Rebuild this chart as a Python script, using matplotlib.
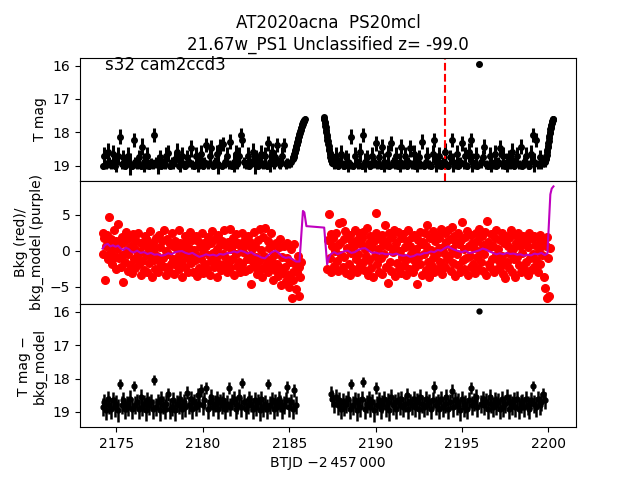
import numpy as np
import matplotlib
matplotlib.use("Agg")
import matplotlib.pyplot as plt

# ---------------- data ----------------
title_text = "AT2020acna  PS20mcl\n21.67w_PS1 Unclassified z= -99.0"
sector_text = "s32 cam2ccd3"
marker_time = 2194.0

cadence = 0.1
ramp_cadence = 0.02
red_cadence = 0.05

# top panel: T mag, orbit 1 (flat part)
top_a_start = 2174.2
top_a_mag = [19.0, 18.7, 18.95, 18.6, 18.9, 18.95, 18.65, 19.0, 18.9, 18.7,
             18.13, 18.95, 18.75, 19.0, 18.9, 18.7, 18.95, 19.0, 18.23, 18.9,
             18.95, 18.75, 19.0, 18.43, 18.9, 18.95, 18.7, 19.0, 18.9, 18.95,
             18.08, 18.9, 18.95, 18.75, 19.0, 18.9, 18.95, 18.7, 18.63, 19.0,
             18.9, 18.95, 18.8, 18.58, 19.0, 18.9, 18.7, 18.95, 19.0, 18.75,
             18.9, 18.48, 18.95, 19.0, 18.7, 18.9, 18.95, 18.65, 19.0, 18.9,
             18.38, 18.95, 18.7, 18.48, 19.0, 18.9, 18.65, 18.95, 18.43, 19.0,
             18.35, 18.9, 18.7, 18.95, 18.28, 19.0, 18.9, 18.65, 18.95, 18.7,
             18.08, 18.23, 18.9, 18.95, 18.7, 19.0, 18.9, 18.6, 18.95, 18.75,
             19.0, 18.9, 18.65, 18.95, 18.7, 19.0, 18.33, 18.9, 18.6, 18.95,
             18.75, 18.38, 18.9, 18.95, 18.7, 18.38, 18.95, 18.9, 18.95, 18.9, 18.8]
top_a_err = [0.08, 0.25, 0.13, 0.28, 0.17, 0.13, 0.26, 0.1, 0.28, 0.25,
             0.22, 0.13, 0.22, 0.08, 0.13, 0.25, 0.33, 0.1, 0.22, 0.17,
             0.13, 0.22, 0.1, 0.25, 0.28, 0.13, 0.25, 0.08, 0.13, 0.13,
             0.22, 0.17, 0.28, 0.22, 0.1, 0.13, 0.13, 0.25, 0.25, 0.08,
             0.17, 0.13, 0.2, 0.25, 0.1, 0.28, 0.25, 0.13, 0.08, 0.22,
             0.13, 0.25, 0.13, 0.1, 0.25, 0.28, 0.13, 0.26, 0.08, 0.17,
             0.22, 0.13, 0.25, 0.25, 0.1, 0.17, 0.26, 0.28, 0.22, 0.08,
             0.22, 0.17, 0.25, 0.13, 0.22, 0.1, 0.28, 0.26, 0.13, 0.25,
             0.22, 0.22, 0.17, 0.13, 0.25, 0.08, 0.13, 0.28, 0.28, 0.22,
             0.1, 0.17, 0.26, 0.13, 0.25, 0.08, 0.22, 0.28, 0.28, 0.13,
             0.22, 0.22, 0.17, 0.13, 0.25, 0.22, 0.13, 0.13, 0.12, 0.12, 0.1]
# scattered-light ramp at the end of orbit 1
ramp_a_start = 2185.22
ramp_a_mag = [18.78, 18.75, 18.73, 18.68, 18.66, 18.6, 18.58, 18.52, 18.5, 18.44,
              18.42, 18.36, 18.34, 18.28, 18.26, 18.2, 18.18, 18.12, 18.1, 18.04,
              18.02, 17.96, 17.94, 17.88, 17.86, 17.81, 17.8, 17.75, 17.74, 17.7,
              17.69, 17.66, 17.65, 17.62, 17.6]
# ramp at the start of orbit 2
ramp_b_start = 2187.0
ramp_b_mag = [17.55, 17.59, 17.61, 17.68, 17.72, 17.8, 17.85, 17.94, 17.99, 18.08,
              18.13, 18.22, 18.27, 18.36, 18.41, 18.5, 18.54, 18.62, 18.66, 18.73,
              18.76, 18.82, 18.84, 18.89, 18.9, 18.92]
ramp_err = 0.08

# orbit 2 (flat part)
top_b_start = 2187.6
top_b_mag = [18.95, 18.7, 19.0, 18.9, 18.65, 18.95, 19.0, 18.75, 18.9, 18.95,
             18.13, 19.0, 18.7, 18.9, 18.95, 18.6, 19.0, 18.08, 18.9, 18.75,
             18.95, 19.0, 18.7, 18.9, 18.33, 18.95, 18.75, 19.0, 18.43, 18.9,
             18.95, 18.65, 19.0, 18.33, 18.9, 18.95, 18.7, 19.0, 18.9, 18.43,
             18.95, 18.7, 19.0, 18.9, 18.48, 18.95, 18.65, 19.0, 18.9, 18.75,
             18.95, 18.28, 19.0, 18.9, 18.7, 18.95, 19.0, 18.65, 18.23, 18.9,
             18.95, 18.7, 19.0, 18.9, 18.6, 18.95, 19.0, 18.75, 18.23, 18.9,
             18.95, 18.65, 19.0, 18.9, 18.33, 18.95, 18.7, 19.0, 18.6, 18.23,
             18.9, 18.95, 18.7, 19.0, 15.96, 18.9, 18.75, 18.43, 18.95, 19.0,
             18.7, 18.9, 18.95, 18.65, 19.0, 18.9, 18.48, 18.95, 18.7, 19.0,
             18.9, 18.75, 18.95, 18.6, 19.0, 18.9, 18.7, 18.95, 18.43, 19.0,
             18.9, 18.7, 18.95, 19.0, 18.65, 18.08, 18.9, 18.23, 18.95, 18.75,
             18.95, 18.9, 18.9]
top_b_err = [0.13, 0.25, 0.08, 0.17, 0.26, 0.13, 0.1, 0.22, 0.28, 0.13,
             0.22, 0.08, 0.25, 0.13, 0.13, 0.28, 0.1, 0.22, 0.28, 0.22,
             0.13, 0.08, 0.25, 0.17, 0.22, 0.13, 0.22, 0.1, 0.22, 0.28,
             0.13, 0.26, 0.08, 0.22, 0.17, 0.13, 0.25, 0.1, 0.28, 0.22,
             0.13, 0.25, 0.08, 0.17, 0.25, 0.13, 0.26, 0.1, 0.28, 0.22,
             0.13, 0.22, 0.08, 0.17, 0.25, 0.13, 0.1, 0.26, 0.22, 0.28,
             0.13, 0.25, 0.08, 0.17, 0.28, 0.13, 0.1, 0.22, 0.22, 0.28,
             0.13, 0.26, 0.08, 0.17, 0.22, 0.13, 0.25, 0.1, 0.28, 0.22,
             0.28, 0.13, 0.25, 0.08, 0.03, 0.17, 0.22, 0.22, 0.13, 0.1,
             0.25, 0.28, 0.13, 0.26, 0.08, 0.17, 0.25, 0.13, 0.25, 0.1,
             0.28, 0.22, 0.13, 0.28, 0.08, 0.17, 0.25, 0.13, 0.22, 0.1,
             0.17, 0.25, 0.13, 0.08, 0.26, 0.22, 0.28, 0.22, 0.13, 0.22,
             0.13, 0.13, 0.12]
# ramp at the end of orbit 2
ramp_c_start = 2199.82
ramp_c_mag = [18.86, 18.81, 18.78, 18.71, 18.67, 18.59, 18.54, 18.45, 18.4, 18.31,
              18.26, 18.17, 18.12, 18.03, 17.99, 17.91, 17.87, 17.8, 17.77, 17.71,
              17.69, 17.65, 17.63, 17.61, 17.6]

# middle panel: background (red) and background model (purple)
red_a_start = 2174.2
red_a = [2.5, -0.5, 1.8, -4.0, 0.7, 2.2, -1.2, 1.0, 4.7, -0.3,
         1.6, -1.8, 0.4, 2.8, -0.9, 1.3, -2.5, 0.2, 3.7, -1.0,
         0.9, -2.2, 1.9, -0.6, -4.3, 1.2, -1.5, 2.6, 0.1, -2.8,
         -0.4, 1.7, -2.0, 0.6, -3.1, 2.3, -1.1, 0.3, -2.4, 1.4,
         -0.8, 2.5, -1.9, -0.2, -3.3, 1.1, -1.4, 0.8, -2.7, 2.0,
         -0.6, 1.5, -2.9, 0.4, -1.7, 2.7, -0.9, -3.6, 1.0, -1.3,
         0.2, -2.5, 1.8, -0.7, -3.0, 2.2, -1.6, 0.5, -2.1, 1.3,
         -1.0, 2.9, -2.3, 0.0, -3.4, 1.6, -0.5, -2.8, 0.9, -1.8,
         2.4, -1.2, 0.6, -3.2, 1.4, -2.0, 0.3, -0.9, 2.8, -2.6,
         1.0, -1.5, -3.7, 0.7, -0.3, 2.1, -2.2, 1.2, -1.0, -3.0,
         0.4, 2.6, -1.7, -0.4, 1.5, -2.9, 0.1, -1.3, 2.0, -3.5,
         -0.8, 1.3, -2.4, 0.5, -1.1, 2.4, -3.1, -0.2, 1.0, -1.9,
         0.7, -2.6, 1.9, -0.6, -3.3, 1.1, -1.4, 2.7, -0.3, -2.2,
         1.6, -1.0, -3.6, 0.3, 2.2, -1.8, 0.8, -2.7, 1.4, -0.5,
         -2.0, 2.9, -0.9, 0.6, -3.0, 1.2, -1.6, 3.0, -2.4, 0.2,
         -1.2, 1.8, -3.4, 0.9, -0.4, 2.3, -2.1, 1.0, -1.5, -3.0,
         0.5, 2.5, -1.9, -0.2, 1.4, -2.8, 0.8, -1.1, 2.0, -2.5,
         -0.7, 1.2, -4.6, 0.3, -1.6, 2.6, -2.3, 0.7, -0.9, -3.2,
         1.5, -1.4, 3.0, -2.6, 0.1, -3.6, 1.9, -0.8, 3.2, -2.0,
         -1.1, 1.3, -3.0, 0.4, -2.2, 2.4, -1.5, -4.0, 0.8, -0.6,
         -2.7, 1.0, -1.8, -3.5, 0.5, -2.4, 1.6, -4.8, -0.9, -3.1,
         0.6, -2.2, -4.2, -1.0, 1.1, -3.4, -5.0, -1.6, 0.2, -6.6,
         -2.9, -4.1, 0.9, -1.8, -5.3, -3.0, -0.7, -6.2, -2.2, -3.6,
         -1.5]
red_b_start = 2187.2
red_b = [-2.5, 1.5, 5.1, -1.0, 2.3, -3.0, 0.6, 1.8, -2.1, 0.0,
         2.4, -1.4, 0.8, -2.8, 3.8, 1.1, -0.6, 4.0, -2.2, 1.6,
         -0.9, 2.7, -3.1, 0.4, 1.9, -1.8, -3.4, 2.2, -0.3, 1.2,
         -2.5, 0.7, 2.9, -1.2, -3.0, 1.5, -0.5, 2.4, -2.0, 0.9,
         1.7, -1.6, 2.6, -2.7, 0.3, -0.8, 3.1, -3.3, 1.0, -1.3,
         2.0, -2.4, 0.5, -3.7, 1.4, -0.7, 2.5, 5.2, -1.9, 0.2,
         -2.9, 1.6, -1.0, 2.2, -3.2, 0.8, -0.4, 3.5, -2.3, 1.3,
         -4.5, 0.6, 2.4, -1.5, -2.8, 1.9, -0.2, 2.8, -3.5, 0.4,
         1.1, -1.7, 2.6, -2.5, 0.0, -3.1, 1.8, -0.9, 2.3, -2.0,
         0.5, -3.4, 1.4, -1.1, 2.9, -2.6, 0.7, -0.5, 1.9, -3.0,
         -1.3, 2.2, -2.2, 0.3, -4.6, 1.5, -0.8, 2.6, -1.9, 0.9,
         -3.3, 1.2, -0.4, 2.4, -2.7, 0.6, 3.5, -1.5, -3.6, 1.7,
         0.1, -2.1, 2.7, -1.0, -3.0, 1.3, -0.6, 2.2, -2.5, 0.4,
         1.8, -1.6, 3.0, -3.2, 0.5, -0.3, 2.5, -2.3, 1.2, -1.1,
         2.9, -0.8, 1.6, -2.8, 3.3, 0.2, -1.7, 2.0, -3.5, 1.0,
         -0.5, 2.4, -2.0, 0.9, -3.0, 1.5, 4.0, -1.3, 0.3, -2.6,
         1.9, -1.0, 2.7, -3.3, 0.6, -0.7, 2.2, -2.2, 1.1, -1.8,
         0.4, -3.1, 2.5, -0.9, 1.4, -2.5, 3.0, 0.0, -1.5, 2.1,
         -2.8, 0.8, -0.4, 2.6, -3.4, 4.1, 1.2, -1.9, 0.5, -2.3,
         2.3, -1.2, 0.7, -3.0, 1.7, -0.6, 2.8, -2.6, 0.2, -1.4,
         1.5, -2.1, 2.4, -0.8, -3.2, 1.0, -3.8, 2.0, -1.6, 0.6,
         -2.4, 1.8, -0.5, 2.9, -2.9, 0.3, -1.2, 2.2, -3.6, 1.1,
         -0.9, 2.5, -2.0, 0.7, -3.0, 1.6, -0.3, 2.0, -2.5, 0.9,
         -1.6, 1.3, -3.4, 0.5, 2.4, -1.0, -2.7, 1.7, -0.4, 2.1,
         -2.2, 0.8, -1.3, 1.9, -3.0, 0.3, 2.2, -1.8, 1.0, -0.6,
         1.5, -3.7, -5.2, 0.7, -6.6, 1.9, -1.0, -6.3, 0.4]

purple_t = [2174.2, 2174.35, 2174.5, 2174.65, 2174.8, 2174.95, 2175.1, 2175.25, 2175.4, 2175.55,
            2175.7, 2175.85, 2176.0, 2176.2, 2176.4, 2176.6, 2176.8, 2177.0, 2177.2, 2177.4,
            2177.6, 2177.8, 2178.0, 2178.2, 2178.4, 2178.6, 2178.8, 2179.0, 2179.2, 2179.4,
            2179.6, 2179.8, 2180.0, 2180.2, 2180.4, 2180.6, 2180.8, 2181.0, 2181.2, 2181.4,
            2181.6, 2181.8, 2182.0, 2182.2, 2182.4, 2182.6, 2182.8, 2183.0, 2183.2, 2183.4,
            2183.6, 2183.8, 2184.0, 2184.2, 2184.4, 2184.6, 2184.8, 2185.0, 2185.2, 2185.4,
            2185.6, 2185.8, 2185.88, 2186.0, 2187.03, 2187.2, 2187.3, 2187.4, 2187.6, 2187.8,
            2188.0, 2188.2, 2188.4, 2188.6, 2188.8, 2189.0, 2189.2, 2189.4, 2189.6, 2189.8,
            2190.0, 2190.2, 2190.4, 2190.6, 2190.8, 2191.0, 2191.2, 2191.4, 2191.6, 2191.8,
            2192.0, 2192.2, 2192.4, 2192.6, 2192.8, 2193.0, 2193.2, 2193.4, 2193.6, 2193.8,
            2194.0, 2194.2, 2194.4, 2194.6, 2194.8, 2195.0, 2195.2, 2195.4, 2195.6, 2195.8,
            2196.0, 2196.2, 2196.4, 2196.6, 2196.8, 2197.0, 2197.2, 2197.4, 2197.6, 2197.8,
            2198.0, 2198.2, 2198.4, 2198.6, 2198.8, 2199.0, 2199.2, 2199.4, 2199.6, 2199.8,
            2199.95, 2200.05, 2200.12, 2200.2, 2200.3]
purple_v = [0.3, 0.8, 0.95, 0.6, 0.75, 0.55, 0.7, 0.3, 0.1, 0.4,
            0.25, -0.1, -0.25, 0.0, -0.3, -0.2, -0.45, -0.3, -0.55, -0.5,
            -0.7, -0.6, -0.35, -0.5, -0.2, -0.1, -0.05, -0.3, -0.45, -0.3,
            -0.6, -0.85, -0.7, -0.5, -0.65, -0.55, -0.7, -0.45, -0.55, -0.35,
            -0.3, -0.1, -0.25, 0.0, -0.15, -0.4, -0.2, -0.55, -0.7, -0.95,
            -1.05, -0.6, -0.2, 0.0, -0.3, -0.8, -1.0, -0.9, -1.2, -1.5,
            -1.5, 5.5, 5.3, 3.4, 3.2, -1.9, -1.0, -0.5, -0.2, -0.45,
            -0.3, -0.05, 0.0, -0.3, -0.2, 0.1, 0.3, 0.35, 0.0, -0.3,
            -0.25, -0.4, -0.35, -0.5, -0.45, -0.55, -0.4, -0.6, -0.7, -0.6,
            -0.85, -0.75, -0.5, -0.55, -0.35, -0.3, -0.1, -0.2, 0.1, 0.0,
            0.35, 0.6, 0.3, 0.1, -0.05, -0.2, 0.0, -0.3, -0.25, -0.1,
            0.05, 0.3, 0.15, -0.1, -0.3, -0.5, -0.35, -0.5, -0.3, -0.45,
            -0.4, -0.55, -0.5, -0.7, -0.55, -0.65, -0.4, -0.5, -0.3, -0.6,
            -0.4, 4.5, 7.8, 8.6, 8.9]

# bottom panel: T mag - bkg_model
bot_a_start = 2174.2
bot_a_mag = [18.85, 18.7, 18.95, 18.6, 18.8, 18.9, 18.65, 18.85, 18.75, 18.95,
             18.17, 18.8, 18.65, 18.9, 18.75, 18.85, 18.6, 18.9, 18.22, 18.8,
             18.7, 18.9, 18.55, 18.85, 18.75, 18.95, 18.65, 18.8, 18.7, 18.9,
             18.05, 18.85, 18.7, 18.95, 18.6, 18.8, 18.9, 18.75, 18.47, 18.9,
             18.85, 18.65, 18.95, 18.75, 18.8, 18.6, 18.9, 18.7, 18.85, 18.42,
             18.8, 18.6, 18.9, 18.7, 18.85, 18.5, 18.75, 18.35, 18.8, 18.65,
             18.29, 18.9, 18.7, 18.55, 18.85, 18.75, 18.6, 18.9, 18.7, 18.8,
             18.65, 18.9, 18.75, 18.29, 18.85, 18.7, 18.6, 18.9, 18.8, 18.55,
             18.85, 18.12, 18.7, 18.9, 18.8, 18.6, 18.75, 18.9, 18.65, 18.85,
             18.7, 18.95, 18.6, 18.85, 18.75, 18.9, 18.17, 18.8, 18.65, 18.9,
             18.7, 18.85, 18.6, 18.75, 18.9, 18.8, 18.65, 18.25, 18.85, 18.7,
             18.9, 18.35, 18.8]
bot_a_err = [0.28, 0.25, 0.3, 0.24, 0.27, 0.32, 0.25, 0.29, 0.26, 0.34,
             0.15, 0.27, 0.25, 0.3, 0.24, 0.28, 0.26, 0.31, 0.15, 0.27,
             0.25, 0.3, 0.24, 0.28, 0.26, 0.33, 0.25, 0.29, 0.24, 0.3,
             0.15, 0.28, 0.25, 0.32, 0.24, 0.27, 0.3, 0.26, 0.2, 0.31,
             0.28, 0.25, 0.33, 0.26, 0.27, 0.24, 0.3, 0.25, 0.29, 0.2,
             0.27, 0.24, 0.31, 0.25, 0.28, 0.22, 0.26, 0.2, 0.29, 0.25,
             0.18, 0.3, 0.25, 0.23, 0.28, 0.26, 0.24, 0.32, 0.25, 0.27,
             0.24, 0.31, 0.26, 0.18, 0.28, 0.25, 0.24, 0.3, 0.27, 0.23,
             0.29, 0.15, 0.25, 0.31, 0.27, 0.24, 0.26, 0.32, 0.25, 0.28,
             0.25, 0.33, 0.24, 0.29, 0.26, 0.3, 0.15, 0.27, 0.25, 0.31,
             0.25, 0.28, 0.24, 0.26, 0.3, 0.27, 0.25, 0.18, 0.29, 0.25,
             0.3, 0.2, 0.27]
bot_b_start = 2187.4
bot_b_mag = [18.45, 18.6, 18.75, 18.55, 18.8, 18.65, 18.9, 18.7, 18.85, 18.75,
             18.6, 18.9, 18.17, 18.8, 18.65, 18.95, 18.7, 18.85, 18.6, 18.1,
             18.9, 18.75, 18.6, 18.85, 18.7, 18.95, 18.29, 18.8, 18.65, 18.9,
             18.75, 18.6, 18.85, 18.7, 18.95, 18.55, 18.8, 18.7, 18.9, 18.65,
             18.8, 18.6, 18.85, 18.75, 18.5, 18.9, 18.7, 18.8, 18.6, 18.85,
             18.7, 18.9, 18.55, 18.75, 18.85, 18.6, 18.8, 18.7, 18.9, 18.65,
             18.25, 18.8, 18.7, 18.9, 18.6, 18.85, 18.75, 18.55, 18.9, 18.7,
             18.37, 18.85, 18.65, 18.8, 18.7, 18.95, 18.6, 18.85, 18.75, 18.9,
             18.65, 18.29, 18.8, 18.7, 18.55, 18.85, 15.96, 18.75, 18.6, 18.8,
             18.7, 18.9, 18.55, 18.75, 18.85, 18.65, 18.8, 18.7, 18.9, 18.6,
             18.85, 18.75, 18.55, 18.9, 18.7, 18.8, 18.65, 18.85, 18.6, 18.9,
             18.75, 18.7, 18.85, 18.6, 18.8, 18.9, 18.65, 18.22, 18.75, 18.85,
             18.6, 18.8, 18.7, 18.47, 18.65]
bot_b_err = [0.22, 0.25, 0.27, 0.24, 0.29, 0.25, 0.31, 0.26, 0.28, 0.27,
             0.24, 0.3, 0.15, 0.28, 0.25, 0.33, 0.26, 0.29, 0.24, 0.15,
             0.31, 0.27, 0.24, 0.29, 0.25, 0.34, 0.18, 0.28, 0.25, 0.3,
             0.27, 0.24, 0.29, 0.26, 0.32, 0.23, 0.28, 0.25, 0.31, 0.24,
             0.28, 0.24, 0.3, 0.26, 0.22, 0.31, 0.25, 0.28, 0.24, 0.29,
             0.26, 0.32, 0.23, 0.27, 0.29, 0.24, 0.28, 0.25, 0.31, 0.25,
             0.18, 0.28, 0.25, 0.31, 0.24, 0.29, 0.27, 0.23, 0.32, 0.25,
             0.2, 0.29, 0.25, 0.28, 0.26, 0.33, 0.24, 0.3, 0.27, 0.31,
             0.25, 0.18, 0.28, 0.26, 0.23, 0.3, 0.03, 0.27, 0.24, 0.28,
             0.26, 0.31, 0.23, 0.27, 0.29, 0.25, 0.28, 0.26, 0.32, 0.24,
             0.29, 0.27, 0.23, 0.31, 0.25, 0.28, 0.25, 0.3, 0.24, 0.32,
             0.27, 0.25, 0.29, 0.24, 0.28, 0.31, 0.25, 0.15, 0.27, 0.3,
             0.24, 0.28, 0.26, 0.2, 0.25]


def grid(start, step, values):
    # regular TESS cadence sampling
    return start + step * np.arange(len(values))


ramps = [(ramp_a_start, ramp_a_mag), (ramp_b_start, ramp_b_mag), (ramp_c_start, ramp_c_mag)]
ramp_t = np.concatenate([grid(s, ramp_cadence, m) for s, m in ramps])
ramp_m = np.concatenate([m for s, m in ramps])

top_t = np.concatenate([grid(top_a_start, cadence, top_a_mag), grid(top_b_start, cadence, top_b_mag)])
top_m = np.array(top_a_mag + top_b_mag)
top_e = np.array(top_a_err + top_b_err)

red_t = np.concatenate([grid(red_a_start, red_cadence, red_a), grid(red_b_start, red_cadence, red_b)])
red_v = np.array(red_a + red_b)

bot_t = np.concatenate([grid(bot_a_start, cadence, bot_a_mag), grid(bot_b_start, cadence, bot_b_mag)])
bot_m = np.array(bot_a_mag + bot_b_mag)
bot_e = np.array(bot_a_err + bot_b_err)

# ---------------- plot ----------------
fig, axes = plt.subplots(3, 1, sharex=True, figsize=(6.4, 4.8), dpi=100)
fig.subplots_adjust(hspace=0)
ax1, ax2, ax3 = axes

ax1.errorbar(top_t, top_m, yerr=top_e, fmt='o', color='k', ms=4, elinewidth=2.2, capsize=0)
ax1.errorbar(ramp_t, ramp_m, yerr=ramp_err, fmt='o', color='k', ms=4, elinewidth=2.2, capsize=0)
ax1.axvline(marker_time, color='r', ls='--', lw=1.5)
ax1.invert_yaxis()
ax1.set_ylabel("T mag")
ax1.set_title(title_text)
ax1.text(0.05, 0.9, sector_text, transform=ax1.transAxes, fontsize=12)

ax2.plot(red_t, red_v, 'o', color='red', ms=5.5)
ax2.plot(purple_t, purple_v, '-', color='m', lw=1.5)
ax2.set_ylabel("Bkg (red)/\nbkg_model (purple)")

ax3.errorbar(bot_t, bot_m, yerr=bot_e, fmt='o', color='k', ms=3.5, elinewidth=1.8, capsize=0)
ax3.invert_yaxis()
ax3.set_ylabel("T mag \u2212\nbkg_model")
ax3.set_xlabel("BTJD \u22122\u2009457\u2009000")

fig.savefig("out.png", dpi=100)
